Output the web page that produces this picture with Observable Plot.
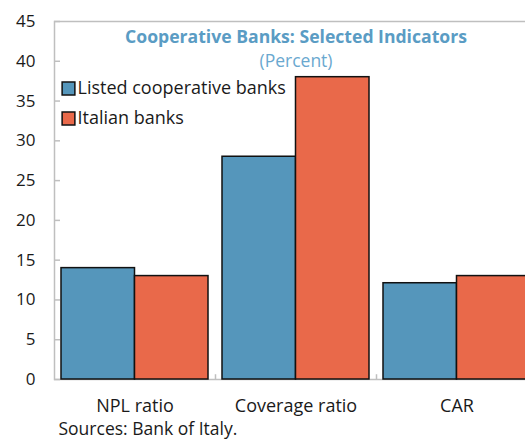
<!DOCTYPE html>
<html>
<head>
<meta charset="utf-8">
<script src="https://cdn.jsdelivr.net/npm/d3@7"></script>
<script src="https://cdn.jsdelivr.net/npm/@observablehq/plot@0.6"></script>
<style>
  html, body { margin: 0; padding: 0; background: #fff; overflow: hidden; }
  #chart svg { display: block; overflow: hidden; }
</style>
</head>
<body>
<div id="chart"></div>
<script>
// ---- data ----
const categories = ["NPL ratio", "Coverage ratio", "CAR"];
const seriesNames = ["Listed cooperative banks", "Italian banks"];
const listedValues = [14, 28, 12.1];
const italianValues = [13, 38, 13];
const yTicks = [0, 5, 10, 15, 20, 25, 30, 35, 40, 45];
const titleText = "Cooperative Banks: Selected Indicators";
const subtitleText = "(Percent)";
const sourceText = "Sources: Bank of Italy.";

// ---- styles ----
const colors = ["#5596bb", "#e9694a"];
const gray = "#bfbfbf";
const font = "'Open Sans', 'Noto Sans', sans-serif";

const width = 525, height = 440;
const marginLeft = 54, marginRight = -12, marginTop = 21, marginBottom = 61;
const paddingInner = 0.087, paddingOuter = 0.0435;
const rangeW = width - marginRight - marginLeft;
const step = rangeW / (categories.length - paddingInner + 2 * paddingOuter);
const bandwidth = step * (1 - paddingInner);

const listed = categories.map((c, i) => ({category: c, value: listedValues[i]}));
const italian = categories.map((c, i) => ({category: c, value: italianValues[i]}));

const chart = Plot.plot({
  width, height, marginLeft, marginRight, marginTop, marginBottom,
  style: {fontFamily: font, fontSize: "17px", color: "#1a1a1a", background: "#fff"},
  x: {type: "band", domain: categories, paddingInner, paddingOuter, label: null},
  y: {domain: [0, 45], label: null},
  marks: [
    Plot.frame({stroke: gray, strokeWidth: 1.5}),
    Plot.barY(listed, {x: "category", y: "value", fill: colors[0], stroke: "#111", strokeWidth: 1.5, insetRight: bandwidth / 2}),
    Plot.barY(italian, {x: "category", y: "value", fill: colors[1], stroke: "#111", strokeWidth: 1.5, insetLeft: bandwidth / 2}),
    Plot.ruleX(categories, {x: d => d, dx: step / 2, y1: 0, y2: 0.6, stroke: gray, strokeWidth: 1.5}),
    Plot.axisY({ticks: yTicks, tickSize: -6, tickPadding: 25, stroke: gray, strokeWidth: 1.5, fontSize: 17}),
    Plot.axisX({tickSize: 0, tickPadding: 20, fontSize: 18}),
    Plot.text([titleText], {frameAnchor: "top", dy: 16, lineAnchor: "middle", fill: "#5a9cc4", fontWeight: "bold", fontSize: 17.6}),
    Plot.text([subtitleText], {frameAnchor: "top", dy: 40, lineAnchor: "middle", fill: "#6aa8cf", fontSize: 17.5}),
    Plot.dot([seriesNames[0]], {frameAnchor: "top-left", dx: 14, dy: 67, symbol: "square", r: 7.2, fill: colors[0], stroke: "#111", strokeWidth: 1.5}),
    Plot.dot([seriesNames[1]], {frameAnchor: "top-left", dx: 14, dy: 97, symbol: "square", r: 7.2, fill: colors[1], stroke: "#111", strokeWidth: 1.5}),
    Plot.text([seriesNames[0]], {text: d => d, frameAnchor: "top-left", dx: 23, dy: 67, lineAnchor: "middle", textAnchor: "start", fill: "#1a1a1a", fontSize: 18}),
    Plot.text([seriesNames[1]], {text: d => d, frameAnchor: "top-left", dx: 23, dy: 97, lineAnchor: "middle", textAnchor: "start", fill: "#1a1a1a", fontSize: 18}),
    Plot.text([sourceText], {frameAnchor: "bottom-left", dx: 4, dy: 50, lineAnchor: "middle", textAnchor: "start", fill: "#1a1a1a", fontSize: 17.5})
  ]
});
document.getElementById("chart").append(chart);
</script>
</body>
</html>
